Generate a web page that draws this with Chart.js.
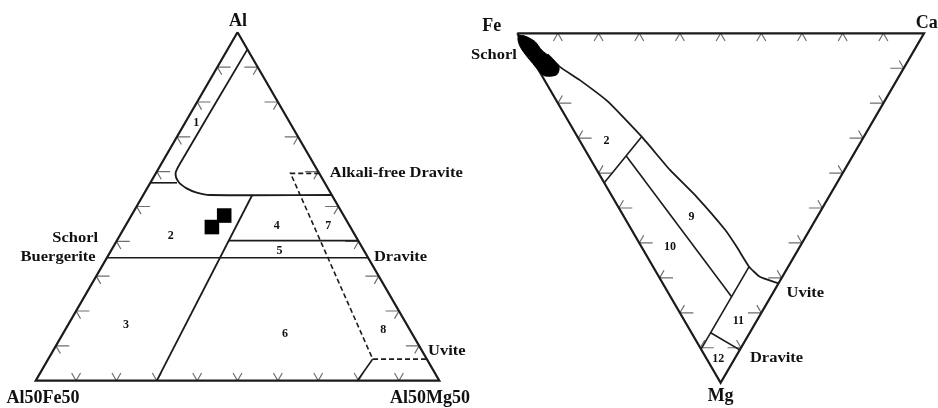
<!DOCTYPE html>
<html>
<head>
<meta charset="utf-8">
<script src="https://cdn.jsdelivr.net/npm/chart.js@4.4.0/dist/chart.umd.min.js"></script>
<style>
  html, body { margin: 0; padding: 0; background: #fff; }
  #wrap { width: 938px; height: 408px; position: relative; }
</style>
</head>
<body>
<div id="wrap"><canvas id="chart"></canvas></div>
<script>
// Left diagram: points are [Al, Mg] in % (Fe = rest), corners Al / Al50Fe50 / Al50Mg50
const leftOutline = [[100, 0], [0, 0], [0, 100], [100, 0]];
const leftField1 = [[95.1, 4.9], [62.4, 4.6], [59.5, 4.9], [57.1, 6.8], [55.2, 9.8], [54, 12.9], [53.3, 16.5], [53.3, 46.7]];
const leftField1Base = [[56.8, 0], [56.8, 6.6]];
const leftLine45 = [[40.2, 27.7], [40.2, 59.8]];
const leftSchorlDravite = [[35.3, 0], [35.3, 64.7]];
const leftFeMgSplit = [[0, 30], [53.3, 27]];
const leftUviteBase = [[0, 79.7], [6.2, 80.4]];
const leftDashed = [[59.5, 40.5], [59.5, 33.4], [6.2, 80.4], [6.2, 93.8]];
const leftSamples = [[44.1, 21.6], [47.4, 23.0]];

// Right diagram: points are [Ca, Mg] in % (Fe = rest), corners Fe / Ca / Mg
const rightOutline = [[0, 0], [100, 0], [0, 100], [0, 0]];
const rightCurve = [[4.5, 6], [5.7, 9.6], [8.7, 13.4], [12.5, 19.5], [15.8, 29.6], [18, 39.1], [20.7, 46.8], [23, 56.3], [23.4, 61.1], [23.6, 66.8], [24.8, 69.7], [28.45, 71.55]];
const rightLine2 = [[15.8, 29.6], [0, 42.8]];
const rightLine910 = [[9.25, 35.1], [15, 75.4]];
const rightFeLine = [[23.6, 66.8], [0, 90.4]];
const rightLine1112 = [[4.7, 85.7], [9.4, 90.6]];
const rightSchorl = [[0, 0.5], [1.5, 0.8], [3.2, 2.4], [3.6, 4.8], [4.7, 6.7], [5.2, 8.1], [5.3, 10], [3.7, 11.9], [0.7, 12.2], [0, 11], [-0.5, 8.6], [-1, 6.2], [-1.2, 4], [-0.8, 2], [0, 0.5]];

// tick steps along every edge (%)
const tickSteps = [10, 20, 30, 40, 50, 60, 70, 80, 90];

// labels: [a, b] in the diagram's own ternary coordinates
const leftLabels = [
  { text: 'Al', at: [103.2, -1.5], kind: 'corner', align: 'center' },
  { text: 'Al50Fe50', at: [-5, 4.3], kind: 'corner', align: 'center' },
  { text: 'Al50Mg50', at: [-5, 100.2], kind: 'corner', align: 'center' },
  { text: 'Schorl', at: [41, -10.7], kind: 'name', align: 'center' },
  { text: 'Buergerite', at: [35.5, -12.2], kind: 'name', align: 'center' },
  { text: 'Dravite', at: [35.6, 66], kind: 'name', align: 'left' },
  { text: 'Alkali-free Dravite', at: [59.5, 43.1], kind: 'name', align: 'left' },
  { text: 'Uvite', at: [8.6, 92.9], kind: 'name', align: 'left' },
  { text: '1', at: [73.9, 2.8], kind: 'field', align: 'center' },
  { text: '2', at: [41.7, 12.6], kind: 'field', align: 'center' },
  { text: '3', at: [16, 14.4], kind: 'field', align: 'center' },
  { text: '4', at: [44.5, 37.5], kind: 'field', align: 'center' },
  { text: '5', at: [37.2, 41.8], kind: 'field', align: 'center' },
  { text: '6', at: [13.3, 55.1], kind: 'field', align: 'center' },
  { text: '7', at: [44.4, 50.3], kind: 'field', align: 'center' },
  { text: '8', at: [14.6, 78.8], kind: 'field', align: 'center' }
];
const rightLabels = [
  { text: 'Fe', at: [-5.3, -1.9], kind: 'corner', align: 'center' },
  { text: 'Ca', at: [102.1, -2.9], kind: 'corner', align: 'center' },
  { text: 'Mg', at: [-2, 104], kind: 'corner', align: 'center' },
  { text: 'Schorl', at: [-3.2, 6.2], kind: 'name', align: 'right' },
  { text: 'Uvite', at: [29, 74.4], kind: 'name', align: 'left' },
  { text: 'Dravite', at: [10.7, 93], kind: 'name', align: 'left' },
  { text: '2', at: [6.6, 30.7], kind: 'field', align: 'center' },
  { text: '9', at: [16.6, 52.5], kind: 'field', align: 'center' },
  { text: '10', at: [7, 61.1], kind: 'field', align: 'center' },
  { text: '11', at: [13.2, 82.3], kind: 'field', align: 'center' },
  { text: '12', at: [2.8, 93.2], kind: 'field', align: 'center' }
];

// placement of the two triangles in chart units
const LEFT = { x0: 0, y0: 0, w: 100, h: 86.6 };
const RIGHT = { x0: 119.3, y0: 86.35, w: 100.8, h: 86.85 };

const INK = '#1b1b1b';
const TICK = '#6e6e6e';
const FONTS = {
  corner: 'bold 18px "Liberation Serif"',
  name: 'bold 15px "Liberation Serif"',
  field: 'bold 12px "Liberation Serif"'
};

function leftPt(p) {
  const al = p[0], mg = p[1];
  return { x: LEFT.x0 + LEFT.w * (mg + al / 2) / 100, y: LEFT.y0 + LEFT.h * al / 100 };
}
function rightPt(p) {
  const ca = p[0], mg = p[1];
  return { x: RIGHT.x0 + RIGHT.w * (ca + mg / 2) / 100, y: RIGHT.y0 - RIGHT.h * mg / 100 };
}

function lineSet(points, conv, width, color, dash, tension) {
  return {
    data: points.map(conv),
    showLine: true,
    borderColor: color || INK,
    borderWidth: width,
    borderDash: dash || [],
    pointRadius: 0,
    fill: false,
    tension: tension || 0,
    clip: false
  };
}

// every tick is a couple of short strokes from the edge point, joined with gaps
function tickSet(marks, conv) {
  const data = [];
  marks.forEach(m => {
    m.to.forEach(t => {
      data.push(conv(m.from), conv(t), { x: null, y: null });
    });
  });
  return { data, showLine: true, spanGaps: false, borderColor: TICK, borderWidth: 1.2, pointRadius: 0, fill: false, clip: false };
}

const leftTicks = [];
tickSteps.forEach(s => {
  leftTicks.push({ from: [s, 0], to: [[s, 3.3], [s - 2.2, 2.2]] });
  leftTicks.push({ from: [s, 100 - s], to: [[s, 96.7 - s], [s - 2.2, 100 - s]] });
  leftTicks.push({ from: [0, s], to: [[2.2, s - 2.2], [2.2, s]] });
});
const rightTicks = [];
tickSteps.forEach(s => {
  rightTicks.push({ from: [s, 0], to: [[s - 2.2, 2.2], [s, 2.2]] });
  rightTicks.push({ from: [100 - s, s], to: [[96.7 - s, s], [100 - s, s - 2.2]] });
  rightTicks.push({ from: [0, s], to: [[3.3, s], [2.2, s - 2.2]] });
});

const datasets = [
  {
    data: leftSamples.map(leftPt),
    pointStyle: 'rect',
    pointRadius: 10.3,
    backgroundColor: '#000',
    borderColor: '#000',
    borderWidth: 0,
    showLine: false,
    clip: false
  },
  {
    data: rightSchorl.map(rightPt),
    showLine: true,
    fill: 'shape',
    backgroundColor: '#000',
    borderColor: '#000',
    borderWidth: 1,
    pointRadius: 0,
    tension: 0.3,
    clip: false
  },
  lineSet(leftOutline, leftPt, 2.2),
  lineSet(leftField1, leftPt, 1.8, INK, null, 0.3),
  lineSet(leftField1Base, leftPt, 1.6),
  lineSet(leftLine45, leftPt, 1.6),
  lineSet(leftSchorlDravite, leftPt, 1.6),
  lineSet(leftFeMgSplit, leftPt, 1.8),
  lineSet(leftUviteBase, leftPt, 1.6),
  lineSet(leftDashed, leftPt, 1.6, INK, [5, 3]),
  lineSet(rightOutline, rightPt, 2.2),
  lineSet(rightCurve, rightPt, 1.8, INK, null, 0.15),
  lineSet(rightLine2, rightPt, 1.6),
  lineSet(rightLine910, rightPt, 1.6),
  lineSet(rightFeLine, rightPt, 1.6),
  lineSet(rightLine1112, rightPt, 1.6),
  tickSet(leftTicks, leftPt),
  tickSet(rightTicks, rightPt)
];

// labels drawn through the same scales
const labelPlugin = {
  id: 'ternaryLabels',
  afterDatasetsDraw(chart) {
    const ctx = chart.ctx;
    const sx = chart.scales.x, sy = chart.scales.y;
    const draw = (list, conv) => {
      list.forEach(l => {
        const p = conv(l.at);
        const px = sx.getPixelForValue(p.x), py = sy.getPixelForValue(p.y);
        ctx.save();
        ctx.font = FONTS[l.kind];
        ctx.fillStyle = '#111';
        ctx.textBaseline = 'middle';
        ctx.textAlign = l.align;
        ctx.translate(px, py);
        if (l.kind === 'name') ctx.scale(1.1, 1);
        ctx.fillText(l.text, 0, 0);
        ctx.restore();
      });
    };
    draw(leftLabels, leftPt);
    draw(rightLabels, rightPt);
  }
};

new Chart(document.getElementById('chart'), {
  type: 'scatter',
  data: { datasets },
  options: {
    responsive: true,
    maintainAspectRatio: false,
    animation: false,
    layout: { padding: 0, autoPadding: false },
    plugins: { legend: { display: false }, tooltip: { enabled: false } },
    scales: {
      x: { type: 'linear', min: -8.85, max: 223.56, display: false },
      y: { type: 'linear', min: -6.79, max: 94.63, display: false }
    }
  },
  plugins: [labelPlugin]
});
</script>
</body>
</html>
